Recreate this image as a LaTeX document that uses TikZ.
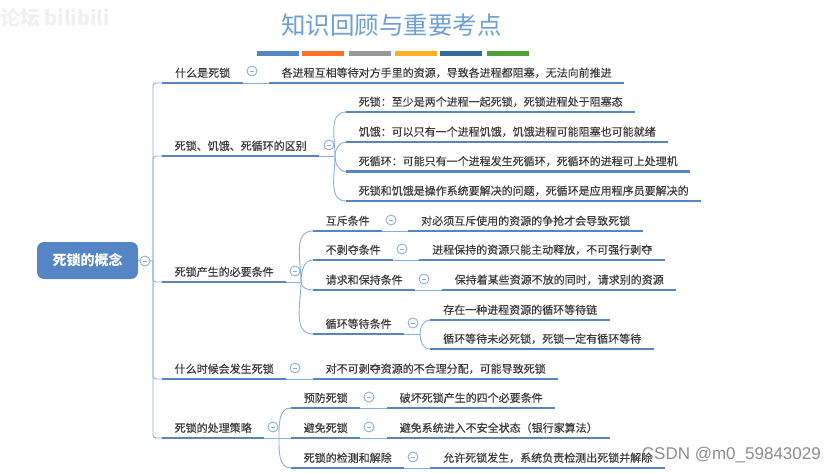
\documentclass[tikz,border=0pt]{standalone}
\usepackage{fontspec}
\usepackage{xcolor}
\setmainfont{Noto Sans CJK SC}
\newfontfamily\topicfont[FakeBold=0.3]{Noto Sans CJK SC}
\newfontfamily\marksf{Liberation Sans}
\usetikzlibrary{positioning}
\definecolor{mapblue}{HTML}{5585C5}
\definecolor{linkblue}{HTML}{8AAEDC}
\definecolor{titleblue}{HTML}{6C9FD4}
\definecolor{inkgrey}{HTML}{3A3A3A}
\tikzset{
  topic/.style={anchor=south west,minimum height=20,inner sep=0,text=inkgrey,font=\topicfont\fontsize{11}{13}\selectfont},
  underline/.style={line width=2.8pt,mapblue},
  link/.style={line width=0.9pt,linkblue},
  toggle/.style={circle,draw=linkblue,line width=0.9pt,fill=white,minimum size=10,inner sep=0,text=linkblue,font=\fontsize{5}{5}\selectfont},
  colorbar/.style={minimum width=42,minimum height=5.5,inner sep=0}
}
\begin{document}
\begin{tikzpicture}[x=1pt,y=-1pt]
\useasboundingbox (0,0) rectangle (834,473);
\node[text=black!6,font=\fontsize{20}{20}\selectfont\bfseries,inner sep=0] (siteMark) at (55,18) {论坛 bilibili};
\node[text=titleblue,font=\fontsize{24.5}{28}\selectfont,inner sep=0] (mainTitle) at (391.5,25) {知识回顾与重要考点};
\node[colorbar,fill=mapblue] (bar1) at (278,53.5) {};
\node[colorbar,fill=orange!70!red!85!white] (bar2) at (323,53.5) {};
\node[colorbar,fill=black!40] (bar3) at (370,53.5) {};
\node[colorbar,fill=orange!75!yellow!85!white] (bar4) at (416,53.5) {};
\node[colorbar,fill=blue!45!cyan!50!black!80!white] (bar5) at (461,53.5) {};
\node[colorbar,fill=green!45!black!85!yellow!80!white] (bar6) at (508,53.5) {};

\node[fill=mapblue,rounded corners=7,minimum width=101,minimum height=37,inner sep=0,text=white,font=\fontsize{14}{16}\selectfont\bfseries] (concept) at (87.5,260.5) {死锁的概念};
\coordinate (spine) at (153,261);

% first level
\node[topic,minimum width=81] (what) at (162,83) {什么是死锁};
\node[topic,minimum width=157] (diff) at (162,156) {死锁、饥饿、死循环的区别};
\node[topic,minimum width=124] (need) at (162,282) {死锁产生的必要条件};
\node[topic,minimum width=124] (when) at (162,379) {什么时候会发生死锁};
\node[topic,minimum width=102] (handle) at (162,438) {死锁的处理策略};

% leaves of what and when
\node[topic,minimum width=355] (whatText) at (269,83) {各进程互相等待对方手里的资源，导致各进程都阻塞，无法向前推进};
\node[topic,minimum width=245] (whenText) at (313,379) {对不可剥夺资源的不合理分配，可能导致死锁};

% leaves of diff
\node[topic,minimum width=289] (diffLock) at (346,112) {死锁：至少是两个进程一起死锁，死锁进程处于阻塞态};
\node[topic,minimum width=322] (diffStarve) at (346,142) {饥饿：可以只有一个进程饥饿，饥饿进程可能阻塞也可能就绪};
\node[topic,minimum width=344] (diffLoop) at (346,171.5) {死循环：可能只有一个进程发生死循环，死循环的进程可上处理机};
\node[topic,minimum width=355] (diffDuty) at (346,201) {死锁和饥饿是操作系统要解决的问题，死循环是应用程序员要解决的};

% conditions
\node[topic,minimum width=69] (mutex) at (313,231) {互斥条件};
\node[topic,minimum width=80] (nopre) at (313,260) {不剥夺条件};
\node[topic,minimum width=102] (hold) at (313,290) {请求和保持条件};
\node[topic,minimum width=91] (cycle) at (313,334) {循环等待条件};
\node[topic,minimum width=235] (mutexText) at (408,231) {对必须互斥使用的资源的争抢才会导致死锁};
\node[topic,minimum width=246] (nopreText) at (419,260) {进程保持的资源只能主动释放，不可强行剥夺};
\node[topic,minimum width=234] (holdText) at (442,290) {保持着某些资源不放的同时，请求别的资源};
\node[topic,minimum width=180] (cycleChain) at (430,320) {存在一种进程资源的循环等待链};
\node[topic,minimum width=224] (cycleNote) at (430,349) {循环等待未必死锁，死锁一定有循环等待};

% strategies
\node[topic,minimum width=69] (prevent) at (291,408) {预防死锁};
\node[topic,minimum width=69] (avoid) at (291,438) {避免死锁};
\node[topic,minimum width=113] (detect) at (291,468) {死锁的检测和解除};
\node[topic,minimum width=168] (preventText) at (387,408) {破坏死锁产生的四个必要条件};
\node[topic,minimum width=223] (avoidText) at (387,438) {避免系统进入不安全状态（银行家算法）};
\node[topic,minimum width=235] (detectText) at (430,468) {允许死锁发生，系统负责检测出死锁并解除};

% forks
\coordinate (diffFork) at (335,156);
\coordinate (needFork) at (301,282);
\coordinate (cycleFork) at (420,334);
\coordinate (handleFork) at (279,438);

\draw[link] (concept.east) -- (spine);
\foreach \n in {what,diff,need} \draw[link,rounded corners=3] (spine) |- (\n.south west);
\foreach \n in {when,handle} \draw[link,rounded corners=3] (spine) |- (\n.south west);

\draw[link] (what.south east) -- (whatText.south west);
\draw[link] (when.south east) -- (whenText.south west);
\draw[link] (diff.south east) -- (diffFork);
\draw[link] (need.south east) -- (needFork);
\draw[link] (handle.south east) -- (handleFork);
\draw[link] (mutex.south east) -- (mutexText.south west);
\draw[link] (nopre.south east) -- (nopreText.south west);
\draw[link] (hold.south east) -- (holdText.south west);
\draw[link] (prevent.south east) -- (preventText.south west);
\draw[link] (avoid.south east) -- (avoidText.south west);
\draw[link] (detect.south east) -- (detectText.south west);
\draw[link] (cycle.south east) -- (cycleFork);

\foreach \n in {diffLock,diffStarve} \draw[link] (diffFork) to[out=90,in=180] (\n.south west);
\foreach \n in {diffLoop,diffDuty} \draw[link] (diffFork) to[out=-90,in=180] (\n.south west);
\foreach \n in {mutex,nopre} \draw[link] (needFork) to[out=90,in=180] (\n.south west);
\foreach \n in {hold,cycle} \draw[link] (needFork) to[out=-90,in=180] (\n.south west);
\draw[link] (cycleFork) to[out=90,in=180] (cycleChain.south west);
\draw[link] (cycleFork) to[out=-90,in=180] (cycleNote.south west);
\draw[link] (handleFork) to[out=90,in=180] (prevent.south west);
\draw[link] (handleFork) -- (avoid.south west);
\draw[link] (handleFork) to[out=-90,in=180] (detect.south west);

\foreach \n in {what,diff,need,when,handle,whatText,whenText,diffLock,diffStarve,diffLoop,diffDuty}
  \draw[underline] (\n.south west) -- (\n.south east);
\foreach \n in {mutex,nopre,hold,cycle,mutexText,nopreText,holdText,cycleChain,cycleNote}
  \draw[underline] (\n.south west) -- (\n.south east);
\foreach \n in {prevent,avoid,detect,preventText,avoidText,detectText}
  \draw[underline] (\n.south west) -- (\n.south east);

% minus buttons
\node[toggle] (conceptDot) at (145,261) {\rule{4pt}{0.6pt}};
\node[toggle] (whatDot) at (252,71) {\rule{4pt}{0.6pt}};
\node[toggle] (diffDot) at (329,145) {\rule{4pt}{0.6pt}};
\node[toggle] (needDot) at (295,271) {\rule{4pt}{0.6pt}};
\node[toggle] (whenDot) at (295,368) {\rule{4pt}{0.6pt}};
\node[toggle] (handleDot) at (273,427) {\rule{4pt}{0.6pt}};
\node[toggle] (mutexDot) at (391,220) {\rule{4pt}{0.6pt}};
\node[toggle] (nopreDot) at (402,249) {\rule{4pt}{0.6pt}};
\node[toggle] (holdDot) at (424,279) {\rule{4pt}{0.6pt}};
\node[toggle] (cycleDot) at (413,323) {\rule{4pt}{0.6pt}};
\node[toggle] (preventDot) at (369,397) {\rule{4pt}{0.6pt}};
\node[toggle] (avoidDot) at (369,427) {\rule{4pt}{0.6pt}};
\node[toggle] (detectDot) at (413,457) {\rule{4pt}{0.6pt}};

\node[anchor=east,inner sep=0,text=black!45,font=\marksf\fontsize{17}{19}\selectfont] (csdnMark) at (821,455) {CSDN @m0\_59843029};
\end{tikzpicture}
\end{document}
